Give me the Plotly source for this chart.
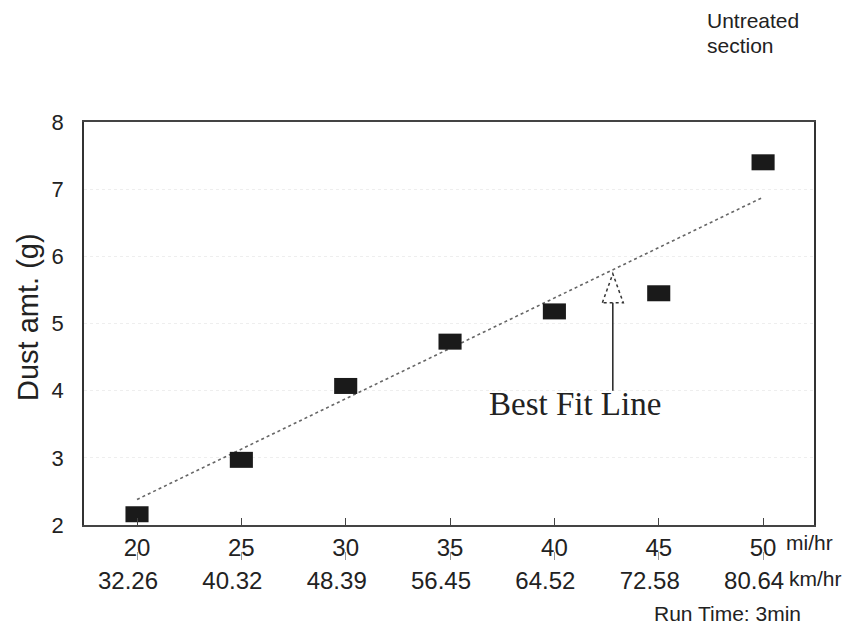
import plotly.graph_objects as go

# ---- data ----
speed_mph = [20, 25, 30, 35, 40, 45, 50]
speed_kmh_labels = ["32.26", "40.32", "48.39", "56.45", "64.52", "72.58", "80.64"]
dust_g = [2.16, 2.97, 4.07, 4.73, 5.18, 5.45, 7.40]
fit_x = [20, 50]
fit_y = [2.38, 6.88]
y_ticks = [2, 3, 4, 5, 6, 7, 8]
arrow_x = 42.8
arrow_tip_y = 5.74
arrow_base_y = 5.31
arrow_tail_y = 4.00

W, H = 851, 630
ML, MR, MT, MB = 84, 37, 122, 40
PW = W - ML - MR
PH = H - MT - MB
def px(p):
    return (p - ML) / PW
def py(p):
    return (H - MB - p) / PH

ydom0 = py(525)

fig = go.Figure()

fig.add_trace(go.Scatter(
    x=fit_x, y=fit_y, mode="lines",
    line=dict(color="#666666", width=1.6, dash="dot"),
    showlegend=False, hoverinfo="skip"))

fig.add_trace(go.Scatter(
    x=speed_mph, y=dust_g, mode="markers",
    marker=dict(symbol="line-ew", size=16.5, color="#1a1a1a",
                line=dict(color="#1a1a1a", width=16)),
    showlegend=False))

# invisible trace on second x axis so it is drawn
fig.add_trace(go.Scatter(x=speed_mph, y=dust_g, xaxis="x2", mode="markers",
                         marker=dict(opacity=0), showlegend=False, hoverinfo="skip"))

xr = [17.46, 52.44]
fig.update_layout(
    width=W, height=H,
    margin=dict(l=ML, r=MR, t=MT, b=MB),
    paper_bgcolor="white", plot_bgcolor="white",
    font=dict(family="Liberation Sans, Arial, sans-serif", color="#222222"),
    xaxis=dict(range=xr, tickvals=speed_mph, ticktext=[str(v) for v in speed_mph],
               ticks="inside", ticklen=7, tickcolor="#444", tickwidth=1,
               tickfont=dict(size=24, color="#222"),
               showline=True, linecolor="#444", linewidth=1.5, mirror=True,
               showgrid=False, zeroline=False, anchor="y"),
    xaxis2=dict(range=xr, overlaying="x", anchor="free", position=py(551), side="bottom",
                tickvals=speed_mph, ticktext=speed_kmh_labels,
                ticks="outside", ticklen=8, tickcolor="#999", tickwidth=1,
                ticklabelshift=-9,
                tickfont=dict(size=24, color="#222"),
                showline=False, showgrid=False, zeroline=False),
    yaxis=dict(range=[2, 8], domain=[ydom0, 1], tickvals=y_ticks,
               ticks="", ticklabelstandoff=14,
               tickfont=dict(size=22, color="#222"),
               showline=True, linecolor="#333", linewidth=1.5, mirror=True,
               showgrid=True, gridcolor="#eeeeee", griddash="dot", gridwidth=1,
               zeroline=False),
)

fig.add_annotation(x=px(28), y=py(317), xref="paper", yref="paper", text="Dust amt. (g)",
                   textangle=-90, showarrow=False, xanchor="center", yanchor="middle",
                   font=dict(size=29, color="#222"))

# arrow: shaft and open dashed triangular head
fig.add_shape(type="line", xref="x", yref="y", x0=arrow_x, x1=arrow_x,
              y0=arrow_tail_y, y1=arrow_base_y, line=dict(color="#222", width=1.5))
hw = 0.5
fig.add_shape(type="path", xref="x", yref="y",
              path=f"M {arrow_x - hw} {arrow_base_y} L {arrow_x} {arrow_tip_y} L {arrow_x + hw} {arrow_base_y} Z",
              line=dict(color="#333", width=1.5, dash="dot"), fillcolor="rgba(0,0,0,0)")

fig.add_annotation(x=px(575), y=py(404), xref="paper", yref="paper", text="Best Fit Line",
                   showarrow=False, xanchor="center", yanchor="middle",
                   font=dict(family="Liberation Serif, Times New Roman, serif", size=33, color="#222"))

small = dict(size=21, color="#222")
fig.add_annotation(x=px(784), y=py(542), xref="paper", yref="paper", text="mi/hr",
                   showarrow=False, xanchor="left", yanchor="middle", font=small)
fig.add_annotation(x=px(787), y=py(578), xref="paper", yref="paper", text="km/hr",
                   showarrow=False, xanchor="left", yanchor="middle", font=small)
fig.add_annotation(x=px(652), y=py(613), xref="paper", yref="paper", text="Run Time: 3min",
                   showarrow=False, xanchor="left", yanchor="middle", font=small)
fig.add_annotation(x=px(705), y=py(20), xref="paper", yref="paper", text="Untreated",
                   showarrow=False, xanchor="left", yanchor="middle", font=small)
fig.add_annotation(x=px(705), y=py(46), xref="paper", yref="paper", text="section",
                   showarrow=False, xanchor="left", yanchor="middle", font=small)

fig.write_html("out.html")
